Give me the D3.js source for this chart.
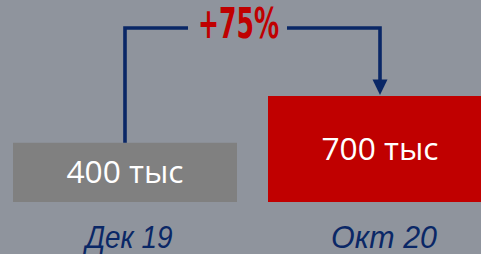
<!DOCTYPE html>
<html><head><meta charset="utf-8">
<script src="https://cdn.jsdelivr.net/npm/d3@7"></script>
<style>html,body{margin:0;padding:0;background:#8f949d;overflow:hidden}</style>
</head><body>
<script>
const categories = ["Дек 19", "Окт 20"];
const values = [400, 700];
const valueLabels = ["400 тыс", "700 тыс"];
const barColors = ["#808080", "#c00000"];
const changeLabel = "+75%";

const W = 481, H = 254;
const svg = d3.select("body").append("svg").attr("width", W).attr("height", H);
svg.append("rect").attr("width", W).attr("height", H).attr("fill", "#8f949d");

const x = d3.scaleBand().domain(categories).range([13, 492]).paddingInner(0.1216).paddingOuter(0);
const y = d3.scaleLinear().domain([20, 700]).range([202, 96]);

const data = categories.map((c, i) => ({c, v: values[i], label: valueLabels[i], color: barColors[i]}));

svg.selectAll("rect.bar").data(data).join("rect").attr("class", "bar")
  .attr("x", d => x(d.c)).attr("width", x.bandwidth())
  .attr("y", d => y(d.v)).attr("height", d => y.range()[0] - y(d.v))
  .attr("fill", d => d.color);

svg.selectAll("text.val").data(data).join("text").attr("class", "val")
  .attr("x", d => x(d.c) + x.bandwidth() / 2)
  .attr("y", d => (y(d.v) + y.range()[0]) / 2 + 11)
  .attr("text-anchor", "middle")
  .attr("font-family", "'Open Sans', sans-serif")
  .attr("font-size", 31)
  .attr("fill", "#ffffff")
  .attr("textLength", 117)
  .attr("lengthAdjust", "spacingAndGlyphs")
  .text(d => d.label);

const catW = [87, 106];
svg.selectAll("text.cat").data(data).join("text").attr("class", "cat")
  .attr("x", d => x(d.c) + x.bandwidth() / 2 + 4)
  .attr("y", 248)
  .attr("text-anchor", "middle")
  .attr("font-family", "'Liberation Sans Narrow', 'Liberation Sans', sans-serif")
  .attr("font-style", "italic")
  .attr("font-size", 32)
  .attr("fill", "#0a2766")
  .attr("textLength", (d, i) => catW[i])
  .attr("lengthAdjust", "spacingAndGlyphs")
  .text(d => d.c);

// bracket
const x0 = x(categories[0]) + x.bandwidth() / 2;
const x1 = x(categories[1]) + x.bandwidth() / 2;
const yTop = 28;
const navy = "#0a2766";
const g = svg.append("g").attr("fill", "none").attr("stroke", navy).attr("stroke-width", 3.6);
g.append("path").attr("d", `M${x0},${y(values[0])} L${x0},${yTop} L188,${yTop}`);
g.append("path").attr("d", `M287,${yTop} L${x1},${yTop} L${x1},${y(values[1]) - 14}`);
svg.append("path")
  .attr("d", `M${x1 - 7.5},${y(values[1]) - 16.5} L${x1 + 7.5},${y(values[1]) - 16.5} L${x1},${y(values[1]) - 1} Z`)
  .attr("fill", navy);

svg.append("text")
  .attr("x", 238.5).attr("y", 38)
  .attr("text-anchor", "middle")
  .attr("font-family", "'Liberation Sans Narrow', 'DejaVu Sans Condensed', sans-serif")
  .attr("font-weight", "bold")
  .attr("font-size", 42)
  .attr("fill", "#c00000")
  .attr("textLength", 81)
  .attr("lengthAdjust", "spacingAndGlyphs")
  .text(changeLabel);
</script>
</body></html>
